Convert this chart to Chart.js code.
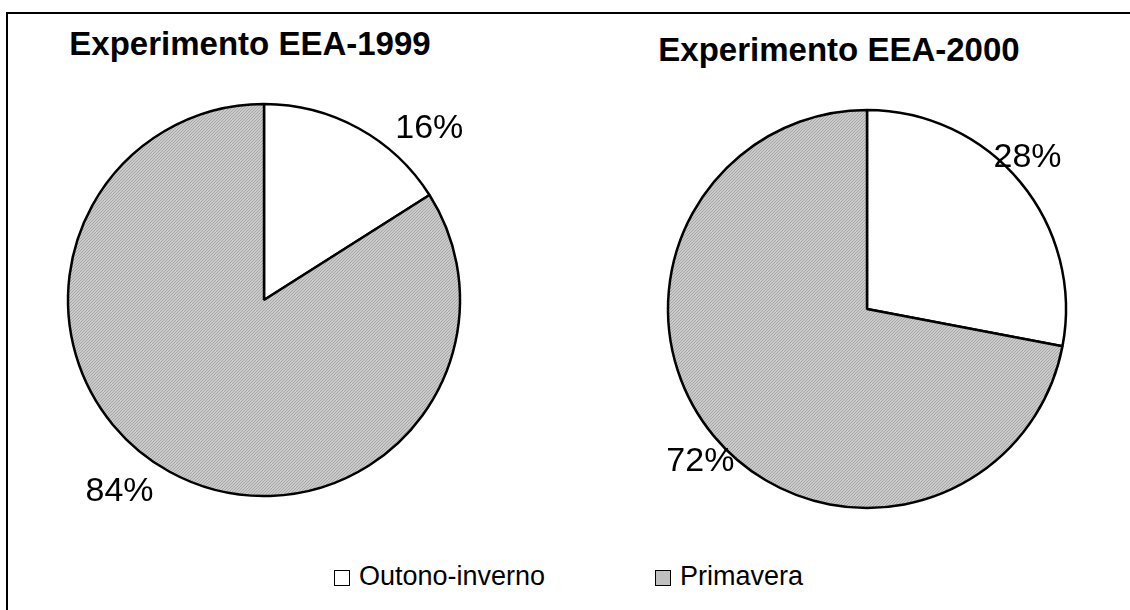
<!DOCTYPE html>
<html>
<head>
<meta charset="utf-8">
<script src="https://cdn.jsdelivr.net/npm/chart.js@4"></script>
<style>
  html, body { margin: 0; background: #fff; overflow: hidden; }
  .page { position: relative; width: 1130px; height: 610px; overflow: hidden; font-family: "Liberation Sans", Arial, sans-serif; }
  .frame { position: absolute; left: 6px; top: 12px; width: 1124px; height: 598px; border-left: 2px solid #000; border-top: 2px solid #000; }
  .title { position: absolute; font-weight: bold; font-size: 33px; text-align: center; white-space: nowrap; }
  .wrap { position: absolute; }
  .legend { position: absolute; top: 561px; font-size: 27px; display: flex; align-items: center; white-space: nowrap; }
  .legend .box { width: 14px; height: 14px; border: 1.5px solid #000; margin-right: 9px; margin-top: 3px; }
</style>
</head>
<body>
<div class="page">
<div class="frame"></div>
<div class="title" style="left:50px; top:25px; width:400px;">Experimento EEA-1999</div>
<div class="title" style="left:639px; top:31px; width:400px;">Experimento EEA-2000</div>
<div class="wrap" style="left:44px; top:80px; width:440px; height:440px;"><canvas id="pie1"></canvas></div>
<div class="wrap" style="left:637px; top:79px; width:460px; height:460px;"><canvas id="pie2"></canvas></div>
<div class="legend" style="left:334px;"><span class="box" style="background:#fff"></span>Outono-inverno</div>
<div class="legend" style="left:655px;"><span class="box" id="swatch"></span>Primavera</div>
</div>
<script>
const categories = ['Outono-inverno', 'Primavera'];
const values1999 = [16, 84];
const values2000 = [28, 72];

// fine dithered grey fill like the old spreadsheet pattern
function greyPattern() {
    const c = document.createElement('canvas');
    c.width = 3; c.height = 3;
    const g = c.getContext('2d');
    g.fillStyle = '#cacaca';
    g.fillRect(0, 0, 3, 3);
    g.fillStyle = '#a8a8a8';
    for (let i = 0; i < 3; i++) g.fillRect(i, 2 - i, 1, 1);
    return g.createPattern(c, 'repeat');
}
const grey = greyPattern();
document.getElementById('swatch').style.background = '#c0c0c0';

// draws "16%" etc. outside the pie at a given angle/distance from centre
const pctLabels = {
    id: 'pctLabels',
    afterDatasetsDraw(chart, args, opts) {
        const ctx = chart.ctx;
        const arc = chart.getDatasetMeta(0).data[0];
        const cx = arc.x, cy = arc.y;
        const data = chart.data.datasets[0].data;
        ctx.save();
        ctx.font = '34px "Liberation Sans", Arial, sans-serif';
        ctx.fillStyle = '#000';
        ctx.textAlign = 'center';
        ctx.textBaseline = 'middle';
        data.forEach((v, i) => {
            const [deg, dist] = opts.pos[i];
            const a = deg * Math.PI / 180;
            ctx.fillText(v + '%', cx + dist * Math.sin(a), cy - dist * Math.cos(a));
        });
        ctx.restore();
    }
};

function makePie(id, values, radius, pos) {
    return new Chart(document.getElementById(id), {
        type: 'pie',
        data: {
            labels: categories,
            datasets: [{
                data: values,
                backgroundColor: ['#ffffff', grey],
                borderColor: '#000',
                borderWidth: 2.5
            }]
        },
        options: {
            responsive: true,
            maintainAspectRatio: false,
            animation: false,
            radius: radius,
            layout: { padding: 0 },
            plugins: {
                legend: { display: false },
                tooltip: { enabled: false },
                pctLabels: { pos: pos }
            }
        },
        plugins: [pctLabels]
    });
}

makePie('pie1', values1999, 196, [[44, 238], [217, 240]]);
makePie('pie2', values2000, 199, [[46.6, 221], [227.5, 226]]);
</script>
</body>
</html>
